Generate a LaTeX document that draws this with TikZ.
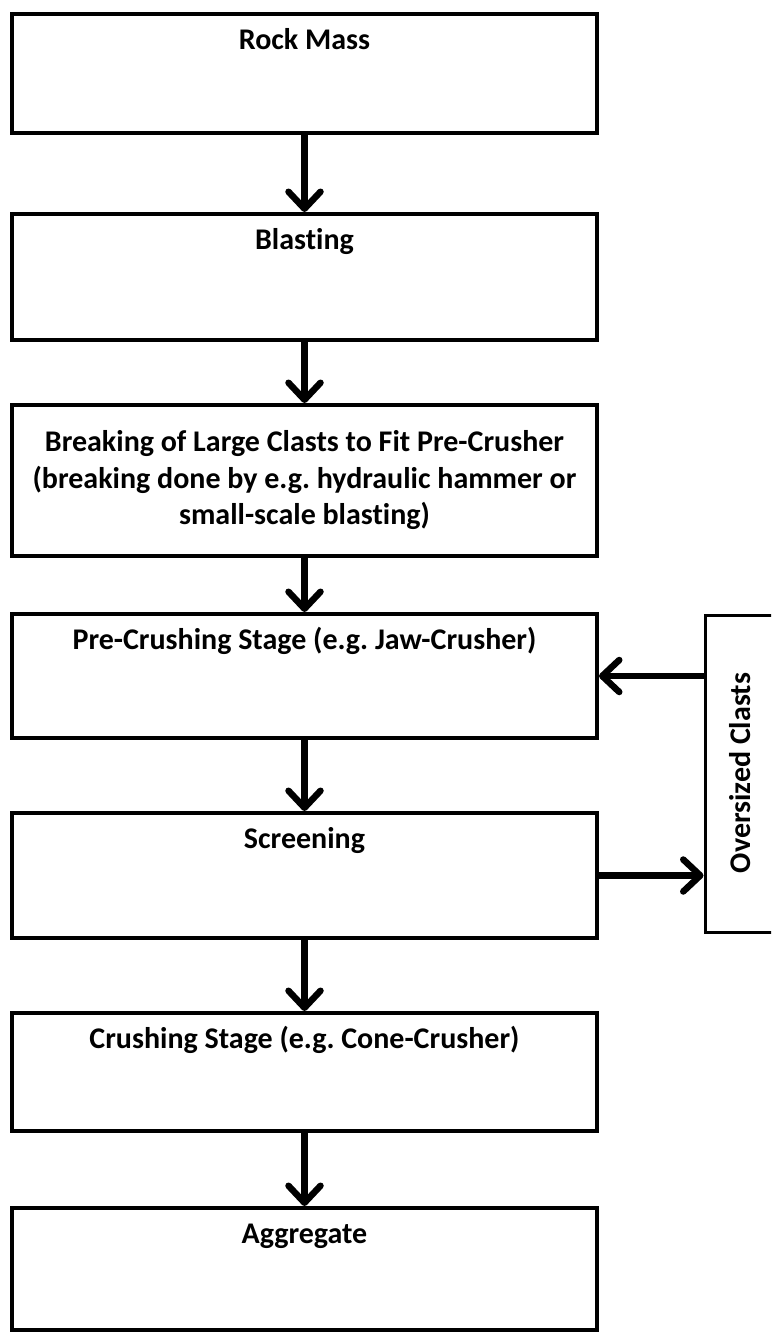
\documentclass[tikz,border=0pt]{standalone}
\usepackage{fontspec}
\setmainfont[Ligatures=NoCommon]{Carlito}
\usetikzlibrary{arrows.meta}
\frenchspacing
\begin{document}
\begin{tikzpicture}[x=1pt,y=-1pt,
  box/.style={draw=black, line width=4pt, minimum width=585pt, inner sep=0pt},
  lbl/.style={font=\fontsize{30}{36.5}\selectfont\bfseries, align=center, inner sep=0pt},
  arr/.style={line width=6.5pt, -{Straight Barb[length=17pt,width=32pt,round]}}]
\useasboundingbox (0,0) rectangle (771,1338);
\fill[white] (0,0) rectangle (771,1338);
\clip (0,0) rectangle (771,1338);
% boxes
\node[box, minimum height=119pt] (b1) at (304.5,73.5) {};
\node[box, minimum height=126pt] (b2) at (304.5,277) {};
\node[box, minimum height=151pt] (b3) at (304.5,480.5) {};
\node[box, minimum height=124pt] (b4) at (304.5,676) {};
\node[box, minimum height=125pt] (b5) at (304.5,875.5) {};
\node[box, minimum height=118pt] (b6) at (304.5,1072) {};
\node[box, minimum height=122pt] (b7) at (304.5,1269) {};
\node[draw=black, line width=3pt, minimum width=100pt, minimum height=317pt, inner sep=0pt] (ov) at (755,773.5) {};
% labels
\node[lbl, anchor=base] (t1) at ([yshift=-37pt]b1.north) {Rock Mass};
\node[lbl, anchor=base] (t2) at ([yshift=-37pt]b2.north) {Blasting};
\node[lbl] (t3) at (b3.center) {Breaking of Large Clasts to Fit Pre-Crusher\\(breaking done by e.g. hydraulic hammer or\\small-scale blasting)};
\node[lbl, anchor=base] (t4) at ([yshift=-37pt]b4.north) {Pre-Crushing Stage (e.g. Jaw-Crusher)};
\node[lbl, anchor=base] (t5) at ([yshift=-37pt]b5.north) {Screening};
\node[lbl, anchor=base] (t6) at ([yshift=-37pt]b6.north) {Crushing Stage (e.g. Cone-Crusher)};
\node[lbl, anchor=base] (t7) at ([yshift=-37pt]b7.north) {Aggregate};
\node[lbl, rotate=90] (tov) at (740,773) {Oversized Clasts};
% connectors
\draw[arr] (b1.south) -- (b2.north);
\draw[arr] (b2.south) -- (b3.north);
\draw[arr] (b3.south) -- (b4.north);
\draw[arr] (b4.south) -- (b5.north);
\draw[arr] (b5.south) -- (b6.north);
\draw[arr] (b6.south) -- (b7.north);
\draw[arr] (ov.west |- b4.east) -- (b4.east);
\draw[arr] (b5.east) -- (b5.east -| ov.west);
\end{tikzpicture}
\end{document}
